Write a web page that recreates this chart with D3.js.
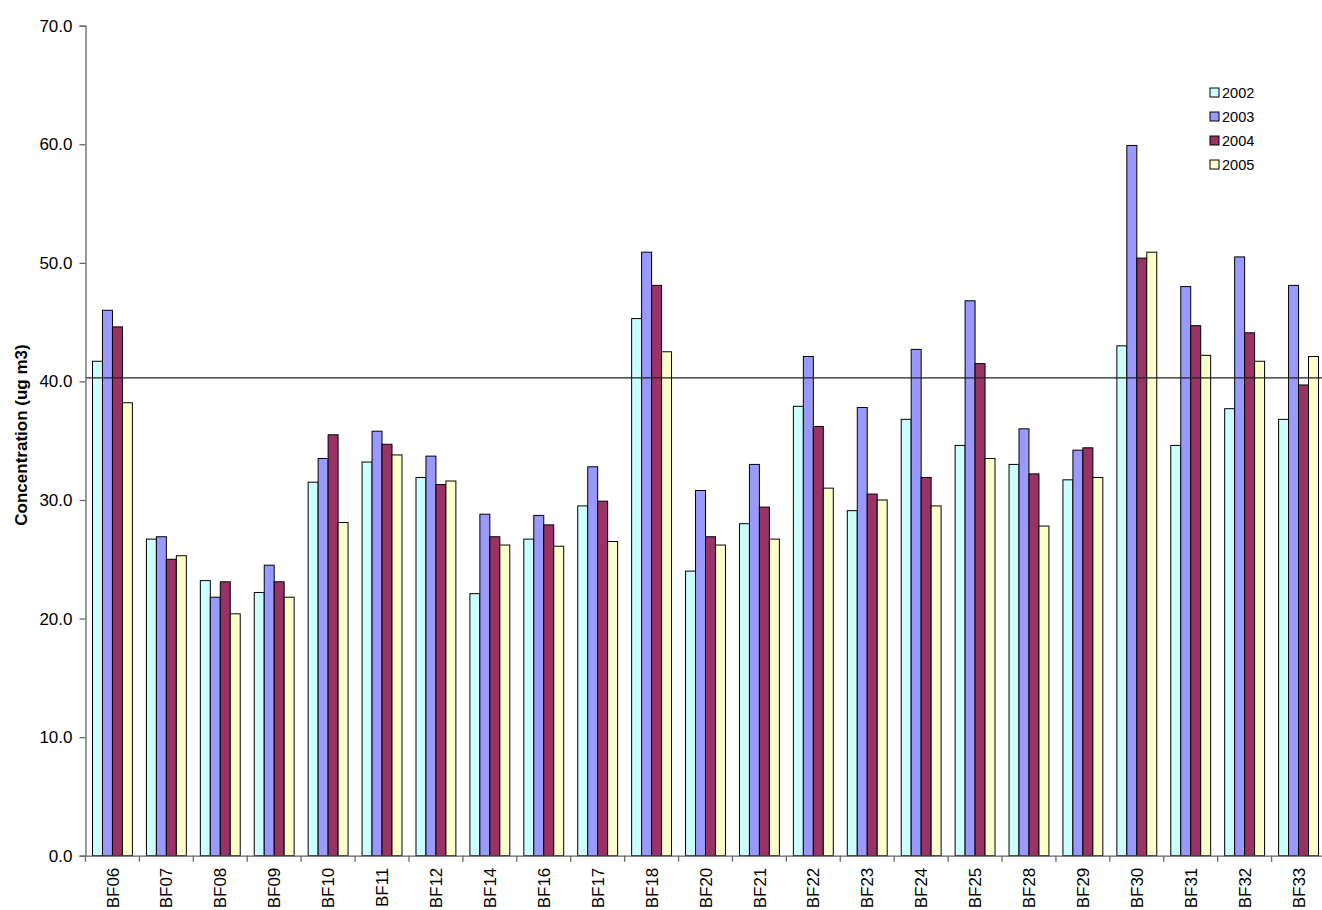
<!DOCTYPE html>
<html>
<head>
<meta charset="utf-8">
<script src="https://cdn.jsdelivr.net/npm/d3@7"></script>
<style>
  html, body { margin: 0; padding: 0; background: #fff; }
  svg { display: block; font-family: "Liberation Sans", Arial, sans-serif; }
</style>
</head>
<body>
<svg id="chart" width="1322" height="910"></svg>
<script>
// Monitoring sites along the x axis
const categories = ["BF06","BF07","BF08","BF09","BF10","BF11","BF12","BF14","BF16","BF17","BF18","BF20","BF21","BF22","BF23","BF24","BF25","BF28","BF29","BF30","BF31","BF32","BF33"];

// Annual mean concentrations per site
const years = ["2002","2003","2004","2005"];
const values2002 = [41.7,26.7,23.2,22.2,31.5,33.2,31.9,22.1,26.7,29.5,45.3,24.0,28.0,37.9,29.1,36.8,34.6,33.0,31.7,43.0,34.6,37.7,36.8];
const values2003 = [46.0,26.9,21.8,24.5,33.5,35.8,33.7,28.8,28.7,32.8,50.9,30.8,33.0,42.1,37.8,42.7,46.8,36.0,34.2,59.9,48.0,50.5,48.1];
const values2004 = [44.6,25.0,23.1,23.1,35.5,34.7,31.3,26.9,27.9,29.9,48.1,26.9,29.4,36.2,30.5,31.9,41.5,32.2,34.4,50.4,44.7,44.1,39.7];
const values2005 = [38.2,25.3,20.4,21.8,28.1,33.8,31.6,26.2,26.1,26.5,42.5,26.2,26.7,31.0,30.0,29.5,33.5,27.8,31.9,50.9,42.2,41.7,42.1];

// Reference level drawn across the plot
const referenceLevel = 40.3;

// Y axis ticks
const yTicks = [0, 10, 20, 30, 40, 50, 60, 70];
const yTitle = "Concentration (ug m3)";

const seriesValues = [values2002, values2003, values2004, values2005];
const colors = ["#CCFFFF", "#9999FF", "#993366", "#FFFFCC"];

const svg = d3.select("#chart");
const plotLeft = 85.5, plotRight = 1325.5, plotTop = 25.7, plotBottom = 855.7;

const y = d3.scaleLinear().domain([0, 70]).range([plotBottom, plotTop]);
const x0 = d3.scaleBand().domain(categories).range([plotLeft, plotRight]).paddingInner(0).paddingOuter(0);
const groupGap = x0.bandwidth() * 0.26;
const x1 = d3.scaleBand().domain(years).range([groupGap / 2, x0.bandwidth() - groupGap / 2]).padding(0);
const color = d3.scaleOrdinal().domain(years).range(colors);

const rows = categories.map((c, i) => ({
  site: c,
  vals: years.map((yr, k) => ({ year: yr, value: seriesValues[k][i] }))
}));

// Bars
const groups = svg.append("g").selectAll("g")
  .data(rows).join("g")
  .attr("transform", d => `translate(${x0(d.site)},0)`);

groups.selectAll("rect")
  .data(d => d.vals).join("rect")
  .attr("x", d => x1(d.year))
  .attr("y", d => y(d.value))
  .attr("width", x1.bandwidth())
  .attr("height", d => y(0) - y(d.value))
  .attr("fill", d => color(d.year))
  .attr("stroke", "#000")
  .attr("stroke-width", 1);

// Reference line
svg.append("line")
  .attr("x1", plotLeft).attr("x2", plotRight)
  .attr("y1", y(referenceLevel)).attr("y2", y(referenceLevel))
  .attr("stroke", "#222").attr("stroke-width", 1.2);

// Y axis
const yAxis = svg.append("g")
  .attr("transform", `translate(${plotLeft},0)`)
  .call(d3.axisLeft(y).tickValues(yTicks).tickFormat(d3.format(".1f")).tickSize(6).tickPadding(7));
yAxis.select(".domain").attr("stroke", "#666").attr("stroke-width", 1.3);
yAxis.selectAll(".tick line").attr("stroke", "#666").attr("stroke-width", 1.3);
yAxis.selectAll("text").attr("font-size", 17).attr("fill", "#000")
  .attr("font-family", "'Liberation Sans', Arial, sans-serif");

// X axis: labels centred on each site, ticks on the group boundaries
const xAxis = svg.append("g")
  .attr("transform", `translate(0,${plotBottom})`)
  .call(d3.axisBottom(x0).tickSize(0).tickPadding(0));
xAxis.select(".domain").attr("stroke", "#666").attr("stroke-width", 1.3);
xAxis.selectAll(".tick text")
  .attr("font-size", 17).attr("fill", "#000")
  .attr("font-family", "'Liberation Sans', Arial, sans-serif")
  .attr("transform", "rotate(-90)")
  .attr("text-anchor", "end")
  .attr("x", -12).attr("y", 0).attr("dy", "0.36em");

svg.append("g").selectAll("line")
  .data(categories.concat(["__end"])).join("line")
  .attr("x1", d => d === "__end" ? plotRight : x0(d))
  .attr("x2", d => d === "__end" ? plotRight : x0(d))
  .attr("y1", plotBottom).attr("y2", plotBottom + 6)
  .attr("stroke", "#666").attr("stroke-width", 1.3);

// Y axis title
svg.append("text")
  .attr("transform", `translate(27,435) rotate(-90)`)
  .attr("text-anchor", "middle")
  .attr("font-size", 17).attr("font-weight", "bold")
  .text(yTitle);

// Legend
const legend = svg.append("g").attr("transform", "translate(1210,88)");
const items = legend.selectAll("g").data(years).join("g")
  .attr("transform", (d, i) => `translate(0,${i * 24})`);
items.append("rect")
  .attr("width", 9).attr("height", 9)
  .attr("fill", d => color(d)).attr("stroke", "#000").attr("stroke-width", 1);
items.append("text")
  .attr("x", 12).attr("y", 9.5)
  .attr("font-size", 14.5)
  .text(d => d);
</script>
</body>
</html>
